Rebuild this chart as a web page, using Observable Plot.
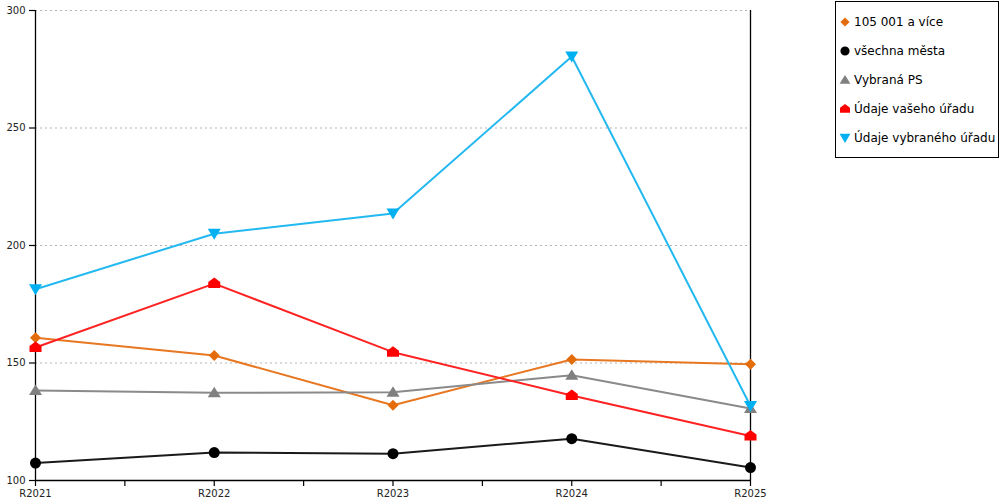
<!DOCTYPE html>
<html>
<head>
<meta charset="utf-8">
<script src="https://cdn.jsdelivr.net/npm/d3@7"></script>
<script src="https://cdn.jsdelivr.net/npm/@observablehq/plot@0.6"></script>
<style>
  html, body { margin: 0; padding: 0; background: #fff; }
  #wrap { position: relative; width: 1000px; height: 500px; font-family: "DejaVu Sans", Verdana, sans-serif; }
  #chart { position: absolute; left: 0; top: 0; }
  #legend { position: absolute; left: 835px; top: 1px; width: 162px; height: 150px; border: 1px solid #000; box-sizing: content-box; padding-top: 5px; }
  .item { display: flex; align-items: center; height: 29px; font-size: 12px; color: #000; white-space: nowrap; }
  .item svg { margin-left: 2px; margin-right: 2px; }
</style>
</head>
<body>
<div id="wrap"><div id="chart"></div><div id="legend"></div></div>
<script>
const categories = ["R2021", "R2022", "R2023", "R2024", "R2025"];
const seriesNames = ["105 001 a více", "všechna města", "Vybraná PS", "Údaje vašeho úřadu", "Údaje vybraného úřadu"];
const values105 = [160.7, 153.2, 132.0, 151.5, 149.5];
const valuesAll = [107.4, 111.9, 111.4, 117.8, 105.5];
const valuesPS = [138.3, 137.3, 137.6, 144.8, 130.6];
const valuesOffice = [156.6, 183.8, 154.6, 136.2, 118.9];
const valuesSelected = [181.4, 205.0, 213.6, 280.4, 131.7];
const yTicks = [100, 150, 200, 250, 300];

const colors = ["#E46C0A", "#000000", "#808080", "#FF0000", "#00B0F0"];
const lineColors = ["#E87722", "#1a1a1a", "#8a8a8a", "#FF2222", "#22B8F0"];

function poly(pts) {
  return {draw(ctx, size) {
    const s = Math.sqrt(size / Math.PI) / 6;
    pts.forEach(([x, y], j) => j ? ctx.lineTo(x * s, y * s) : ctx.moveTo(x * s, y * s));
    ctx.closePath();
  }};
}
const circleSym = {draw(ctx, size) {
  const r = Math.sqrt(size / Math.PI) * 5.5 / 6;
  ctx.moveTo(r, 0); ctx.arc(0, 0, r, 0, 2 * Math.PI); ctx.closePath();
}};
const symbols = [
  poly([[0, -5.5], [5.5, 0], [0, 5.5], [-5.5, 0]]),
  circleSym,
  poly([[0, -6], [6.5, 4.5], [-6.5, 4.5]]),
  poly([[0, -6], [6, -1.5], [6, 4.5], [-6, 4.5], [-6, -1.5]]),
  poly([[-6.5, -5], [6.5, -5], [0, 6]])
];

const allValues = [values105, valuesAll, valuesPS, valuesOffice, valuesSelected];
const series = seriesNames.map((name, k) => ({
  name, color: colors[k], lineColor: lineColors[k], symbol: symbols[k],
  rows: categories.map((c, i) => ({i, cat: c, value: allValues[k][i]}))
}));

const n = categories.length;
const xTicks = d3.range(0, n - 0.75, 0.5);

const marks = [
  Plot.gridY(yTicks.slice(1), {stroke: "#b4b4b4", strokeOpacity: 1, strokeDasharray: "2,3"}),
  Plot.axisY(yTicks, {label: null, tickSize: 6, tickPadding: 4, fontSize: 10, fill: "#222", stroke: "#000", strokeWidth: 1.2}),
  Plot.axisX(xTicks, {label: null, tickSize: 6, tickPadding: 3, fontSize: 10, fill: "#222", stroke: "#000", strokeWidth: 1.2,
    tickFormat: d => Number.isInteger(d) ? categories[d] : ""}),
  Plot.ruleX([0, n - 1], {stroke: "#000", strokeWidth: 1.3}),
  Plot.ruleY([yTicks[0]], {stroke: "#000", strokeWidth: 1.3})
];
for (const s of series) {
  marks.push(Plot.line(s.rows, {x: "i", y: "value", stroke: s.lineColor, strokeWidth: 2}));
  marks.push(Plot.dot(s.rows, {x: "i", y: "value", symbol: s.symbol, r: 6, fill: s.color, stroke: "none"}));
}

const chart = Plot.plot({
  width: 800, height: 500,
  marginLeft: 35, marginRight: 50, marginTop: 10, marginBottom: 20,
  style: {fontFamily: "DejaVu Sans, Verdana, sans-serif", background: "#fff", overflow: "visible"},
  x: {type: "linear", domain: [0, n - 1], axis: null, label: null},
  y: {domain: [yTicks[0], yTicks[yTicks.length - 1]], axis: null, label: null},
  marks
});
document.getElementById("chart").appendChild(chart);

const legend = document.getElementById("legend");
for (const s of series) {
  const p = d3.path();
  s.symbol.draw(p, Math.PI * 25);
  const item = document.createElement("div");
  item.className = "item";
  item.innerHTML = `<svg width="14" height="14" viewBox="-7 -7 14 14"><path d="${p.toString()}" fill="${s.color}"/></svg><span>${s.name}</span>`;
  legend.appendChild(item);
}
</script>
</body>
</html>
